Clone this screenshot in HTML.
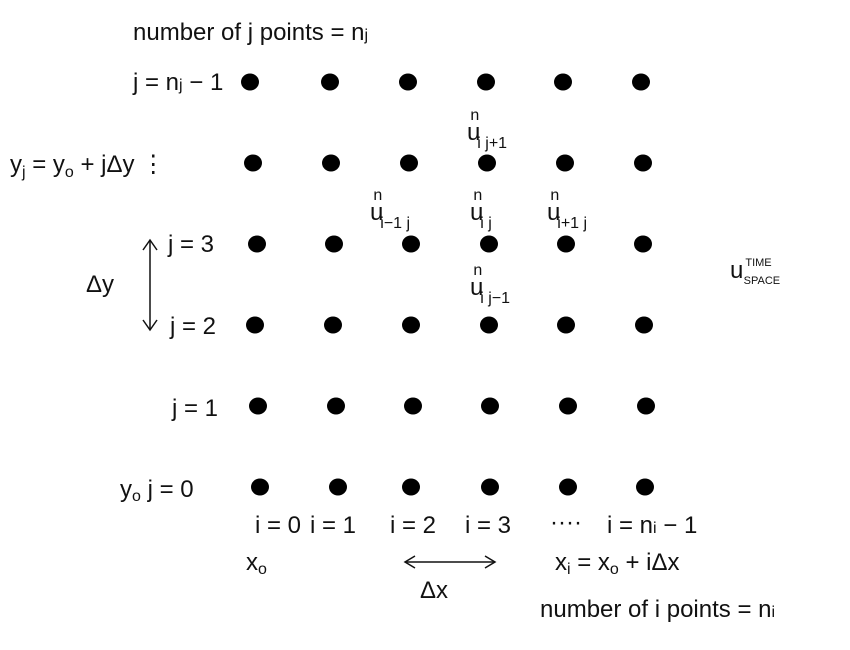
<!DOCTYPE html>
<html><head><meta charset="utf-8"><style>
html,body{margin:0;padding:0;background:#fff;}
svg{display:block;font-family:"Liberation Sans",sans-serif;}
text{fill:#111;font-size:24px;}
.sm{font-size:16px;}
.xs{font-size:11px;}
</style></head><body>
<svg id="chart" width="850" height="650" viewBox="0 0 850 650">
<g id="dots"></g>

<text x="133" y="40">number of j points = n<tspan class="sm">j</tspan></text>
<text x="133" y="90">j = n<tspan class="sm">j</tspan> − 1</text>
<text x="10" y="172">y<tspan class="sm" dy="5">j</tspan><tspan dy="-5"> = y</tspan><tspan class="sm" dy="5">o</tspan><tspan dy="-5"> + jΔy  ⋮</tspan></text>
<text x="168" y="252">j = 3</text>
<text x="170" y="334">j = 2</text>
<text x="172" y="416">j = 1</text>
<text x="120" y="497">y<tspan class="sm" dy="4">o</tspan><tspan dy="-4"> j = 0</tspan></text>

<g stroke="#111" stroke-width="1.5" fill="none">
<line x1="150" y1="240" x2="150" y2="330"/>
<polyline points="143,250 150,240 157,250"/>
<polyline points="143,320 150,330 157,320"/>
</g>
<text x="86" y="292">Δy</text>

<text x="255" y="533">i = 0</text>
<text x="310" y="533">i = 1</text>
<text x="390" y="533">i = 2</text>
<text x="465" y="533">i = 3</text>
<text x="550" y="530">····</text>
<text x="607" y="533">i = n<tspan class="sm">i</tspan> − 1</text>
<text x="246" y="570">x<tspan class="sm" dy="4">o</tspan></text>
<g stroke="#111" stroke-width="1.5" fill="none">
<line x1="405" y1="562" x2="495" y2="562"/>
<polyline points="415,556 405,562 415,568"/>
<polyline points="485,556 495,562 485,568"/>
</g>
<text x="420" y="598">Δx</text>
<text x="555" y="570">x<tspan class="sm" dy="4">i</tspan><tspan dy="-4"> = x</tspan><tspan class="sm" dy="4">o</tspan><tspan dy="-4"> + iΔx</tspan></text>
<text x="540" y="617">number of i points = n<tspan class="sm">i</tspan></text>

<text x="467" y="140">u<tspan class="sm" dx="-10" dy="-20">n</tspan><tspan class="sm" dx="-2" dy="28">i j+1</tspan></text>
<text x="370" y="220">u<tspan class="sm" dx="-10" dy="-20">n</tspan><tspan class="sm" dx="-2" dy="28">i−1 j</tspan></text>
<text x="470" y="220">u<tspan class="sm" dx="-10" dy="-20">n</tspan><tspan class="sm" dx="-2" dy="28">i j</tspan></text>
<text x="547" y="220">u<tspan class="sm" dx="-10" dy="-20">n</tspan><tspan class="sm" dx="-2" dy="28">i+1 j</tspan></text>
<text x="470" y="295">u<tspan class="sm" dx="-10" dy="-20">n</tspan><tspan class="sm" dx="-2" dy="28">i j−1</tspan></text>
<text x="730" y="278">u<tspan class="xs" dx="2" dy="-12">TIME</tspan><tspan class="xs" dx="-28" dy="18">SPACE</tspan></text>
</svg>
<script>
const colIndex = [0, 1, 2, 3, 4, 5];
const rowIndex = [0, 1, 2, 3, 4, 5];
// hand-drawn jitter per row (j) of x offsets for each column
const rowJitter = [
  [7, 7, 2, 3, 3, 2],
  [5, 5, 4, 3, 3, 3],
  [2, 2, 2, 2, 1, 1],
  [4, 3, 2, 2, 1, 0],
  [0, 0, 0, 0, 0, 0],
  [-3, -1, -1, -1, -2, -2]
];
const x0 = 253, dx = 78;
const y0 = 487, dy = 81;
function xScale(i){ return x0 + i*dx; }
function yScale(j){ return y0 - j*dy; }
const g = document.getElementById('dots');
rowIndex.forEach(function(j){
  colIndex.forEach(function(i){
    const c = document.createElementNS('http://www.w3.org/2000/svg','ellipse');
    c.setAttribute('cx', xScale(i) + rowJitter[j][i]);
    c.setAttribute('cy', yScale(j));
    c.setAttribute('rx', 9);
    c.setAttribute('ry', 8.5);
    c.setAttribute('fill', '#000');
    
    
    g.appendChild(c);
  });
});
</script>
</body></html>
